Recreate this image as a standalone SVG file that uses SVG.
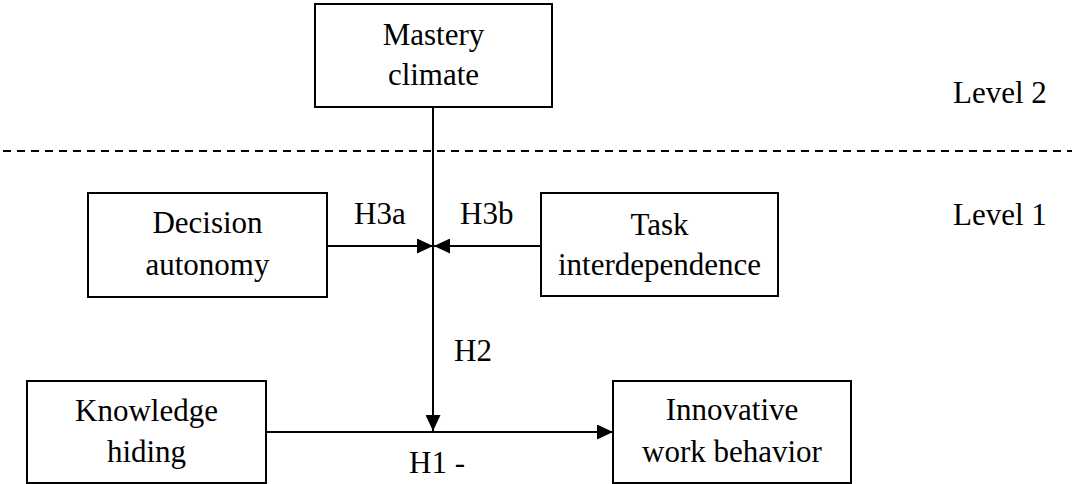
<svg xmlns="http://www.w3.org/2000/svg" width="1076" height="484" viewBox="0 0 1076 484">
<style>
.box{fill:#fff;stroke:#000;stroke-width:2}
.t{font-family:"Liberation Serif","Times New Roman",serif;font-size:31px;fill:#000}
.c{text-anchor:middle}
.ln{stroke:#000;stroke-width:2;fill:none}
</style>
<defs>
<marker id="ah" viewBox="0 0 16 15" refX="16" refY="7.5" markerWidth="16" markerHeight="15" markerUnits="userSpaceOnUse" orient="auto">
<path d="M0,0 L16,7.5 L0,15 Z" fill="#000"/>
</marker>
</defs>
<line x1="3" y1="151" x2="1072" y2="151" stroke="#000" stroke-width="2" stroke-dasharray="8 6"/>
<g id="mastery"><rect class="box" x="315" y="4" width="237" height="103"/><text class="t c" x="433.5" y="45">Mastery</text><text class="t c" x="433.5" y="85">climate</text></g>
<g id="decision"><rect class="box" x="88" y="193" width="239" height="104"/><text class="t c" x="207.5" y="233">Decision</text><text class="t c" x="207.5" y="275">autonomy</text></g>
<g id="task"><rect class="box" x="541" y="193" width="237" height="103"/><text class="t c" x="659.5" y="235">Task</text><text class="t c" x="659.5" y="275">interdependence</text></g>
<g id="knowledge"><rect class="box" x="27" y="381" width="239" height="102"/><text class="t c" x="146.5" y="421">Knowledge</text><text class="t c" x="146.5" y="462">hiding</text></g>
<g id="innovative"><rect class="box" x="613" y="381" width="238" height="102"/><text class="t c" x="732" y="420">Innovative</text><text class="t c" x="732" y="462">work behavior</text></g>
<g id="levels"><text class="t" x="953" y="103">Level 2</text><text class="t" x="953" y="225">Level 1</text></g>
<g id="connectors">
<line class="ln" x1="433" y1="107" x2="433" y2="431" marker-end="url(#ah)"/>
<line class="ln" x1="327" y1="246" x2="433" y2="246" marker-end="url(#ah)"/>
<line class="ln" x1="541" y1="246" x2="434" y2="246" marker-end="url(#ah)"/>
<line class="ln" x1="266" y1="432" x2="613" y2="432" marker-end="url(#ah)"/>
<text class="t" x="354" y="224">H3a</text>
<text class="t" x="460" y="224">H3b</text>
<text class="t" x="454" y="361">H2</text>
<text class="t" x="409" y="473">H1 -</text>
</g>
</svg>
